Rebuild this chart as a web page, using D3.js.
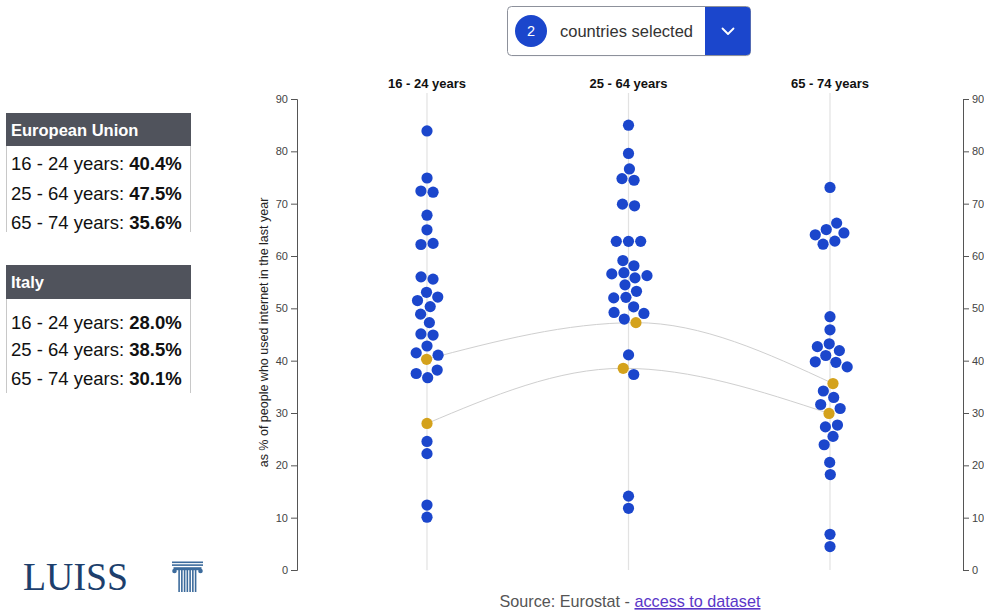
<!DOCTYPE html>
<html>
<head>
<meta charset="utf-8">
<script src="https://cdn.jsdelivr.net/npm/d3@7"></script>
<style>
  body { margin: 0; background: #fff; }
  svg { display: block; font-family: "Liberation Sans", Arial, Helvetica, sans-serif; }
</style>
</head>
<body>
<svg id="chart" width="984" height="610"></svg>
<script>
// Age groups shown as columns
const ageGroups = ["16 - 24 years", "25 - 64 years", "65 - 74 years"];

// Highlighted entities
const euName = "European Union";
const italyName = "Italy";
const euValues = [40.4, 47.5, 35.6];
const italyValues = [28.0, 38.5, 30.1];

// Remaining countries, one list per age group (%)
const others1624 = [83.9, 74.9, 72.2, 72.4, 67.8, 65.0, 62.2, 62.4, 56.0, 55.6, 52.2, 52.9, 51.6, 50.3,
  48.9, 47.3, 44.9, 45.1, 42.8, 41.4, 41.0, 37.5, 38.1, 36.9, 24.4, 22.4, 12.2, 10.3];
const others2564 = [85.0, 79.6, 76.6, 74.8, 74.5, 69.9, 69.6, 62.8, 62.8, 62.8, 58.9, 58.1, 56.0, 56.8,
  56.6, 56.2, 54.6, 53.2, 52.0, 52.0, 50.4, 48.9, 49.1, 48.0, 41.1, 37.4, 14.0, 11.9];
const others6574 = [73.1, 66.1, 65.1, 64.4, 64.0, 62.4, 62.9, 48.4, 45.9, 42.6, 43.1, 41.9, 40.8, 39.9,
  39.9, 38.9, 34.2, 33.0, 31.5, 30.8, 27.3, 27.5, 25.7, 24.0, 20.4, 18.4, 6.7, 4.6];

const yTicks = [0, 10, 20, 30, 40, 50, 60, 70, 80, 90];
const yTitle = "as % of people who used internet in the last year";
const selectedCount = 2;

const BLUE = "#1b46cc";
const GOLD = "#d4a21c";

const svg = d3.select("#chart");

// ---------- scales ----------
const y = d3.scaleLinear().domain([0, 90]).range([570, 99]);
const x = d3.scalePoint().domain(ageGroups).range([427, 830]);

// ---------- column guides & headers ----------
svg.append("g").selectAll("line").data(ageGroups).join("line")
  .attr("x1", d => x(d)).attr("x2", d => x(d))
  .attr("y1", 93).attr("y2", 570)
  .attr("stroke", "#e2e2e2").attr("stroke-width", 1.2);

svg.append("g").selectAll("text").data(ageGroups).join("text")
  .attr("x", d => x(d)).attr("y", 88)
  .attr("text-anchor", "middle")
  .attr("font-size", 13).attr("font-weight", "bold").attr("fill", "#111")
  .text(d => d);

// ---------- axes ----------
function styleAxis(g) {
  g.select(".domain").attr("stroke", "#555");
  g.selectAll(".tick line").attr("stroke", "#555");
  g.selectAll(".tick text").attr("fill", "#444").attr("font-size", 11)
    .attr("font-family", "Liberation Sans, Arial, sans-serif");
}
svg.append("g").attr("transform", "translate(297,0)")
  .call(d3.axisLeft(y).tickValues(yTicks).tickSize(6).tickPadding(3))
  .call(styleAxis);
svg.append("g").attr("transform", "translate(963,0)")
  .call(d3.axisRight(y).tickValues(yTicks).tickSize(6).tickPadding(3))
  .call(styleAxis);

svg.append("text")
  .attr("transform", `translate(268,${(y(0) + y(90)) / 2 - 2}) rotate(-90)`)
  .attr("text-anchor", "middle")
  .attr("font-size", 12.5).attr("fill", "#222")
  .text(yTitle);

// ---------- beeswarm nodes (selected entities first in each column) ----------
const othersByGroup = [others1624, others2564, others6574];
let nodes = [];
ageGroups.forEach((g, i) => {
  nodes.push({ group: g, value: euValues[i], kind: "eu" });
  nodes.push({ group: g, value: italyValues[i], kind: "it" });
  othersByGroup[i].forEach(v => nodes.push({ group: g, value: v, kind: "other" }));
});
nodes.forEach(d => { d.x = x(d.group); d.y = y(d.value); });

const R = 5.6;
const sim = d3.forceSimulation(nodes)
  .force("x", d3.forceX(d => x(d.group)).strength(0.06))
  .force("y", d3.forceY(d => y(d.value)).strength(0.9))
  .force("collide", d3.forceCollide(R + 0.5).iterations(3))
  .stop();
for (let i = 0; i < 400; i++) sim.tick();

// ---------- connecting lines for selected entities ----------
const line = d3.line().x(d => d.x).y(d => d.y).curve(d3.curveMonotoneX);
["eu", "it"].forEach(k => {
  const pts = nodes.filter(d => d.kind === k)
    .sort((a, b) => ageGroups.indexOf(a.group) - ageGroups.indexOf(b.group));
  svg.append("path").attr("d", line(pts))
    .attr("fill", "none").attr("stroke", "#cfcfcf").attr("stroke-width", 1);
});

// ---------- dots ----------
svg.append("g").selectAll("circle")
  .data(nodes.slice().sort((a, b) => (a.kind === "other" ? 0 : 1) - (b.kind === "other" ? 0 : 1)))
  .join("circle")
  .attr("cx", d => d.x).attr("cy", d => d.y).attr("r", R)
  .attr("fill", d => d.kind === "other" ? BLUE : GOLD);

// ---------- selector control ----------
const sel = svg.append("g");
sel.append("rect").attr("x", 508.5).attr("y", 8.5).attr("width", 242).attr("height", 48).attr("rx", 4)
  .attr("fill", "#e9eaee").attr("opacity", 0.7);
sel.append("rect").attr("x", 507.5).attr("y", 6.5).attr("width", 243).attr("height", 49).attr("rx", 4)
  .attr("fill", "#fff").attr("stroke", "#8d919b").attr("stroke-width", 1);
sel.append("path")
  .attr("d", "M705,7 H746.5 a4,4 0 0 1 4,4 V51 a4,4 0 0 1 -4,4 H705 Z")
  .attr("fill", BLUE);
sel.append("path").attr("d", "M722.5,28.5 L728,34 L733.5,28.5")
  .attr("fill", "none").attr("stroke", "#fff").attr("stroke-width", 1.8)
  .attr("stroke-linecap", "round").attr("stroke-linejoin", "round");
sel.append("circle").attr("cx", 531).attr("cy", 31).attr("r", 16).attr("fill", BLUE);
sel.append("text").attr("x", 531).attr("y", 36).attr("text-anchor", "middle")
  .attr("font-size", 14.5).attr("fill", "#fff").text(selectedCount);
sel.append("text").attr("x", 560).attr("y", 37).attr("font-size", 16.5).attr("fill", "#333")
  .text("countries selected");

// ---------- value panels ----------
function panel(top, headerH, name, values, rowY, bodyBottom) {
  const g = svg.append("g");
  g.append("rect").attr("x", 6).attr("y", top).attr("width", 185).attr("height", headerH).attr("fill", "#50535c");
  g.append("text").attr("x", 11).attr("y", top + headerH / 2 + 6).attr("font-size", 16.5)
    .attr("font-weight", "bold").attr("fill", "#fff").text(name);
  const bodyTop = top + headerH;
  g.append("line").attr("x1", 6.5).attr("x2", 6.5).attr("y1", bodyTop).attr("y2", bodyBottom).attr("stroke", "#c8c8c8");
  g.append("line").attr("x1", 190.5).attr("x2", 190.5).attr("y1", bodyTop).attr("y2", bodyBottom).attr("stroke", "#c8c8c8");
  ageGroups.forEach((a, i) => {
    const t = g.append("text").attr("x", 11).attr("y", rowY[i]).attr("font-size", 18.5).attr("fill", "#111");
    t.append("tspan").text(a + ": ");
    t.append("tspan").attr("font-weight", "bold").text(values[i].toFixed(1) + "%");
  });
}
panel(113, 33, euName, euValues, [170, 199.5, 228.5], 232);
panel(265, 34, italyName, italyValues, [328.5, 356, 384.5], 393);

// ---------- logo ----------
svg.append("text").attr("x", 23).attr("y", 590)
  .attr("font-family", "Liberation Serif, Times New Roman, serif")
  .attr("font-size", 39).attr("fill", "#1d3f6d")
  .attr("textLength", 105).attr("lengthAdjust", "spacingAndGlyphs")
  .text("LUISS");
const col = svg.append("g").attr("fill", "#3c6b9c");
col.append("rect").attr("x", 172).attr("y", 561.5).attr("width", 31).attr("height", 1.6);
col.append("rect").attr("x", 172).attr("y", 564.3).attr("width", 31).attr("height", 1.6);
col.append("rect").attr("x", 173.5).attr("y", 567.2).attr("width", 28).attr("height", 3);
col.append("circle").attr("cx", 174.5).attr("cy", 571).attr("r", 2.3);
col.append("circle").attr("cx", 200.5).attr("cy", 571).attr("r", 2.3);
d3.range(7).forEach(i => {
  col.append("rect").attr("x", 178.3 + i * 2.75).attr("y", 570).attr("width", 1.6).attr("height", 22);
});

// ---------- source ----------
const src = svg.append("text").attr("x", 630).attr("y", 607).attr("text-anchor", "middle").attr("font-size", 16.2);
src.append("tspan").attr("fill", "#555").text("Source: Eurostat - ");
src.append("tspan").attr("fill", "#5a36c8").attr("text-decoration", "underline").text("access to dataset");
</script>
</body>
</html>
